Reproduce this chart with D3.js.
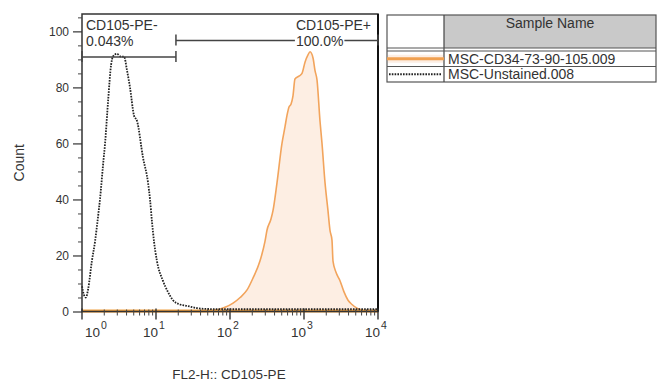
<!DOCTYPE html>
<html>
<head>
<meta charset="utf-8">
<script src="https://cdn.jsdelivr.net/npm/d3@7"></script>
<style>
  body { margin: 0; background: #fff; }
  svg { display: block; font-family: "Liberation Sans", Arial, sans-serif; }
</style>
</head>
<body>
<div id="chart"></div>
<script>
// Stained sample (orange, filled)
const stainedFL = [1, 45.9, 58.9, 85.6, 110, 137, 170, 205, 254, 297, 316, 358, 381, 432, 504, 554, 589, 627, 667, 710, 755, 855, 940, 1032, 1132, 1206, 1324, 1409, 1500, 1645, 1751, 1923, 2109, 2244, 2388, 2466, 2706, 3064, 3472, 3935, 4458, 5200, 6080, 7100, 10000];
const stainedCount = [0, 0, 0.3, 1.5, 3, 5, 7.7, 12, 18, 25, 29, 33, 36, 46, 60, 66, 70, 73, 74, 77, 83, 84, 85, 89, 91.6, 92.7, 90.5, 86, 82.6, 68, 60, 46, 36, 29, 25.5, 18, 14, 11, 7, 4, 2.5, 1.2, 0.5, 0.1, 0];

// Unstained control (black dotted)
const unstainedFL = [1, 1.06, 1.13, 1.21, 1.36, 1.5, 1.65, 1.75, 1.92, 2.05, 2.25, 2.47, 2.62, 2.97, 3.37, 3.7, 4.06, 4.45, 5.04, 5.54, 6.67, 7.8, 8.3, 8.83, 9.4, 10.3, 12.4, 14.5, 17, 21.1, 26.2, 35.8, 48.9, 100, 254, 883, 3065, 10000];
const unstainedCount = [9, 6, 5, 8, 18, 25, 34, 40, 52, 60, 75, 88, 91, 92, 91, 91, 86, 80, 70, 68, 55, 46, 40, 32, 25, 18, 11, 7, 4, 2.5, 2, 1.2, 0.9, 0.8, 0.8, 0.8, 0.8, 0.8];

const yTicks = [0, 20, 40, 60, 80, 100];
const xDecades = [0, 1, 2, 3, 4];

const gateNames = ["CD105-PE-", "CD105-PE+"];
const gatePercents = ["0.043%", "100.0%"];
const gateBounds = [[1, 18.6], [18.6, 10000]];

const sampleNames = ["MSC-CD34-73-90-105.009", "MSC-Unstained.008"];
const legendHeader = "Sample Name";

const width = 657, height = 383;
const plot = { left: 82, right: 378, top: 14, bottom: 311.5 };

const svg = d3.select("#chart").append("svg")
  .attr("width", width)
  .attr("height", height);

const x = d3.scaleLog().domain([1, 10000]).range([plot.left, plot.right]);
const y = d3.scaleLinear().domain([0, 106.2]).range([plot.bottom, plot.top]);

const stained = stainedFL.map((v, i) => ({ v, c: stainedCount[i] }));
const unstained = unstainedFL.map((v, i) => ({ v, c: unstainedCount[i] }));

const area = d3.area().x(d => x(d.v)).y0(y(0)).y1(d => y(d.c)).curve(d3.curveMonotoneX);
const line = d3.line().x(d => x(d.v)).y(d => y(d.c)).curve(d3.curveMonotoneX);

// histograms
svg.append("path").datum(stained)
  .attr("d", area)
  .attr("fill", "#fdeee3");
svg.append("path").datum(stained)
  .attr("d", line)
  .attr("fill", "none")
  .attr("stroke", "#f2a45c")
  .attr("stroke-width", 1.6);
// thick orange baseline where the stained curve sits on zero
svg.append("line")
  .attr("x1", plot.left).attr("x2", plot.right)
  .attr("y1", y(0) - 0.5).attr("y2", y(0) - 0.5)
  .attr("stroke", "#f0a040").attr("stroke-width", 3);

svg.append("path").datum(unstained)
  .attr("d", line)
  .attr("fill", "none")
  .attr("stroke", "#222")
  .attr("stroke-width", 1.8)
  .attr("stroke-dasharray", "1.6,1.2");

// frame
svg.append("rect")
  .attr("x", plot.left).attr("y", plot.top)
  .attr("width", plot.right - plot.left).attr("height", plot.bottom - plot.top)
  .attr("fill", "none").attr("stroke", "#333").attr("stroke-width", 1.5);
svg.append("line")
  .attr("x1", plot.right).attr("x2", plot.right)
  .attr("y1", plot.top).attr("y2", plot.bottom)
  .attr("stroke", "#111").attr("stroke-width", 2);

// y axis
const yMinor = d3.range(0, 106, 5).filter(v => v % 20 !== 0);
svg.append("g")
  .attr("transform", `translate(${plot.left},0)`)
  .call(d3.axisLeft(y).tickValues(yMinor).tickSize(4).tickFormat(""))
  .call(g => g.select(".domain").remove())
  .call(g => g.selectAll("line").attr("stroke", "#444"));
svg.append("g")
  .attr("transform", `translate(${plot.left},0)`)
  .call(d3.axisLeft(y).tickValues(yTicks).tickSize(9).tickPadding(4))
  .call(g => g.select(".domain").remove())
  .call(g => g.selectAll("line").attr("stroke", "#333").attr("stroke-width", 1.2))
  .call(g => g.selectAll("text").attr("font-size", 12).attr("fill", "#333")
    .attr("font-family", "'Liberation Sans', Arial, sans-serif"));

// x axis ticks (log minor + decades)
const xMinor = [];
xDecades.slice(0, -1).forEach(p => {
  for (let k = 2; k <= 9; k++) xMinor.push(k * Math.pow(10, p));
});
const xAxisG = svg.append("g").attr("transform", `translate(0,${plot.bottom})`);
xAxisG.selectAll(".minor").data(xMinor).join("line")
  .attr("x1", d => x(d)).attr("x2", d => x(d))
  .attr("y1", -2).attr("y2", 4)
  .attr("stroke", "#444").attr("stroke-width", 1);
xAxisG.selectAll(".major").data(xDecades).join("line")
  .attr("x1", d => x(Math.pow(10, d))).attr("x2", d => x(Math.pow(10, d)))
  .attr("y1", -3).attr("y2", 8)
  .attr("stroke", "#333").attr("stroke-width", 1.4);

const xLabels = xAxisG.selectAll(".lab").data(xDecades).join("text")
  .attr("font-size", 13.5)
  .attr("fill", "#333")
  .attr("y", 25);
xLabels.append("tspan").text("10");
xLabels.append("tspan").attr("font-size", 10.5).attr("dy", -8).attr("dx", 1).text(d => d);
xLabels.each(function(d) {
  let left = x(Math.pow(10, d)) + 2 - 15;
  if (left < plot.left + 3) left = plot.left + 3;
  d3.select(this).attr("x", left);
});

// axis titles
svg.append("text")
  .attr("transform", `translate(24,${(plot.top + plot.bottom) / 2}) rotate(-90)`)
  .attr("text-anchor", "middle")
  .attr("font-size", 14)
  .attr("fill", "#333")
  .text("Count");
svg.append("text")
  .attr("x", (plot.left + plot.right) / 2 - 1)
  .attr("y", 379)
  .attr("text-anchor", "middle")
  .attr("font-size", 13.5)
  .attr("fill", "#333")
  .text("FL2-H:: CD105-PE");

// gates
const gateY = [57, 40.5];
gateBounds.forEach((b, i) => {
  const g = svg.append("g");
  const gy = gateY[i];
  g.append("line")
    .attr("x1", x(b[0])).attr("x2", x(b[1]))
    .attr("y1", gy).attr("y2", gy)
    .attr("stroke", "#444").attr("stroke-width", 1.5);
  [b[0], b[1]].forEach(v => {
    g.append("line")
      .attr("x1", x(v)).attr("x2", x(v))
      .attr("y1", gy - 6).attr("y2", gy + 5)
      .attr("stroke", "#444").attr("stroke-width", 1.5);
  });
});

function gateLabel(lines, anchorX, alignRight) {
  const g = svg.append("g");
  const texts = lines.map((t, i) => g.append("text")
    .attr("y", 30 + i * 16)
    .attr("font-size", 14)
    .attr("fill", "#333")
    .text(t));
  const w = d3.max(texts, t => t.node().getComputedTextLength());
  const left = alignRight ? anchorX - w : anchorX;
  texts.forEach(t => t.attr("x", left));
  texts.forEach(t => {
    const bb = t.node().getBBox();
    g.insert("rect", "text")
      .attr("x", bb.x - 1).attr("y", bb.y + 1)
      .attr("width", bb.width + 2).attr("height", bb.height - 2)
      .attr("fill", "#fff");
  });
}
gateLabel([gateNames[0], gatePercents[0]], plot.left + 4, false);
gateLabel([gateNames[1], gatePercents[1]], plot.right - 7, true);

// legend table
const lg = { left: 387, mid: 444, right: 656, top: 15, head: 48, row: 51, rowH: 15.5 };
const lgBottom = lg.row + lg.rowH * sampleNames.length;
svg.append("rect")
  .attr("x", lg.mid).attr("y", lg.top)
  .attr("width", lg.right - lg.mid).attr("height", lg.head - lg.top)
  .attr("fill", "#c9c9c9");
svg.append("rect")
  .attr("x", lg.left).attr("y", lg.top)
  .attr("width", lg.right - lg.left).attr("height", lgBottom - lg.top)
  .attr("fill", "none").attr("stroke", "#555").attr("stroke-width", 1.2);
svg.append("line")
  .attr("x1", lg.mid).attr("x2", lg.mid)
  .attr("y1", lg.top).attr("y2", lgBottom)
  .attr("stroke", "#444").attr("stroke-width", 1.2);
[lg.head, lg.row].concat(d3.range(1, sampleNames.length).map(i => lg.row + i * lg.rowH))
  .forEach(yy => {
    svg.append("line")
      .attr("x1", lg.left).attr("x2", lg.right)
      .attr("y1", yy).attr("y2", yy)
      .attr("stroke", "#555").attr("stroke-width", 1.2);
  });
svg.append("text")
  .attr("x", (lg.mid + lg.right) / 2).attr("y", 28)
  .attr("text-anchor", "middle")
  .attr("font-size", 14)
  .attr("fill", "#333")
  .text(legendHeader);

sampleNames.forEach((name, i) => {
  const cy = lg.row + lg.rowH * i + lg.rowH / 2;
  if (i === 0) {
    svg.append("rect")
      .attr("x", lg.left + 1).attr("y", cy - 4)
      .attr("width", lg.mid - lg.left - 2).attr("height", 8)
      .attr("fill", "#fdeee3");
    svg.append("line")
      .attr("x1", lg.left).attr("x2", lg.mid)
      .attr("y1", cy).attr("y2", cy)
      .attr("stroke", "#f0a050").attr("stroke-width", 3);
  } else {
    svg.append("line")
      .attr("x1", lg.left + 2).attr("x2", lg.mid - 2)
      .attr("y1", cy).attr("y2", cy)
      .attr("stroke", "#222").attr("stroke-width", 2)
      .attr("stroke-dasharray", "1.6,1.2");
  }
  svg.append("text")
    .attr("x", lg.mid + 4).attr("y", cy + 5)
    .attr("font-size", 14)
    .attr("fill", "#333")
    .text(name);
});
</script>
</body>
</html>
